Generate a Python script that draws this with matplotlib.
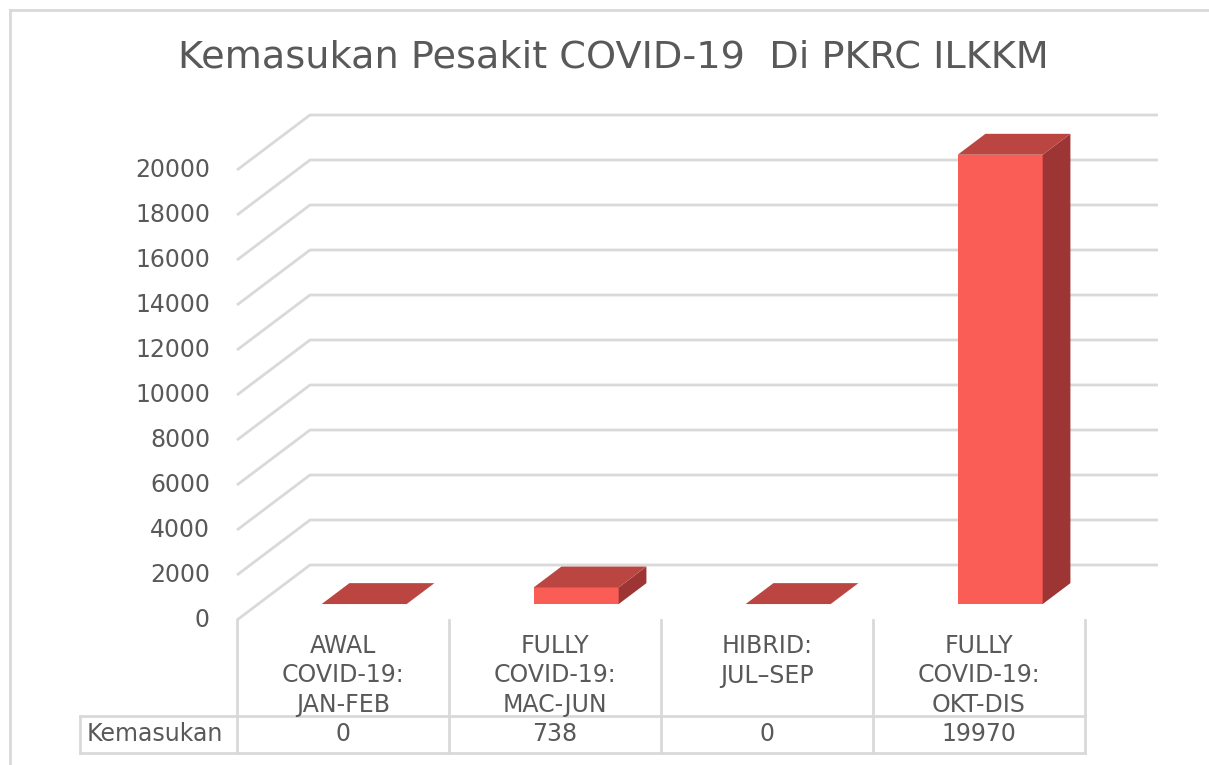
import matplotlib
matplotlib.use("Agg")
import matplotlib.pyplot as plt
from matplotlib.patches import Polygon
from matplotlib.lines import Line2D

# data
categories = ["AWAL\nCOVID-19:\nJAN-FEB", "FULLY\nCOVID-19:\nMAC-JUN",
              "HIBRID:\nJUL\u2013SEP", "FULLY\nCOVID-19:\nOKT-DIS"]
values = [0, 738, 0, 19970]
series_name = "Kemasukan"
y_ticks = list(range(0, 20001, 2000))
title = "Kemasukan Pesakit COVID-19  Di PKRC ILKKM"

TXT = "#595959"
GRID = "#D9D9D9"
FRONT = "#F95D55"
TOP = "#BA4541"
SIDE = "#9C3533"
FS = 17

W, H = 1209, 765
fig = plt.figure(figsize=(W / 100, H / 100), dpi=100)
ax = fig.add_axes([0, 0, 1, 1])
ax.axis("off")

# pixel layout of the plot floor (front edge) -> data units
px_left, px_right = 237, 1085          # front category span
py_zero, py_top = 620, 170             # value 0 and 20000 at the front
ux = (px_right - px_left) / len(categories)   # px per category
uy = (py_zero - py_top) / 20000.0             # px per value unit
ax.set_xlim(-0.5 - px_left / ux, -0.5 + (W - px_left) / ux)
ax.set_ylim(-(H - py_zero) / uy, py_zero / uy)

def py(p):
    # pixel row below the floor -> data y
    return -(p - py_zero) / uy

# depth vector of the 3D box (data units)
DX, DY = 73 / ux, 55 / uy
n = len(categories)
x0, x1 = -0.5, n - 0.5

# side wall + back wall gridlines
for v in y_ticks:
    ax.plot([x0, x0 + DX, x1 + DX], [v, v + DY, v + DY], color=GRID, lw=2, zorder=1,
            solid_capstyle="butt")
    ax.text(x0 - 27 / ux, v, str(v), ha="right", va="center", fontsize=FS, color=TXT)

# bars
z0, z1 = 0.29, 0.67
bw = 85 / ux
for i, v in enumerate(values):
    fx0 = i - bw / 2 + z0 * DX
    fx1 = i + bw / 2 + z0 * DX
    fy = z0 * DY
    ddx, ddy = (z1 - z0) * DX, (z1 - z0) * DY
    if v > 0:
        ax.add_patch(Polygon([(fx0, fy), (fx1, fy), (fx1, fy + v), (fx0, fy + v)],
                             closed=True, fc=FRONT, ec="none", zorder=3))
        ax.add_patch(Polygon([(fx1, fy), (fx1 + ddx, fy + ddy), (fx1 + ddx, fy + ddy + v), (fx1, fy + v)],
                             closed=True, fc=SIDE, ec="none", zorder=3))
    ax.add_patch(Polygon([(fx0, fy + v), (fx1, fy + v), (fx1 + ddx, fy + ddy + v), (fx0 + ddx, fy + ddy + v)],
                         closed=True, fc=TOP, ec="none", zorder=3))

# data table
row_top = py(716)
row_bot = py(753)
tab_left = x0 - (px_left - 80) / ux
for k in range(n + 1):
    ax.plot([x0 + k, x0 + k], [0, row_bot], color=GRID, lw=2, zorder=1)
ax.plot([tab_left, x1], [row_top, row_top], color=GRID, lw=2, zorder=1)
ax.plot([tab_left, x1], [row_bot, row_bot], color=GRID, lw=2, zorder=1)
ax.plot([tab_left, tab_left], [row_top, row_bot], color=GRID, lw=2, zorder=1)

for i, c in enumerate(categories):
    for k, line in enumerate(c.split("\n")):
        ax.text(i, py(653 + 29.5 * k), line, ha="center", va="baseline", fontsize=FS,
                color=TXT)
    ax.text(i, py(734), str(values[i]), ha="center", va="center", fontsize=FS, color=TXT)
ax.text(tab_left + 7 / ux, py(734), series_name, ha="left", va="center",
        fontsize=FS, color=TXT)

# chart border
fig.add_artist(Line2D([10 / W, 1], [1 - 10 / H, 1 - 10 / H], color=GRID, lw=2))
fig.add_artist(Line2D([10 / W, 10 / W], [0, 1 - 10 / H], color=GRID, lw=2))

fig.text(613 / W, 1 - 57 / H, title, ha="center", va="center", fontsize=27.5, color=TXT)

fig.savefig("out.png", dpi=100, facecolor="white")
